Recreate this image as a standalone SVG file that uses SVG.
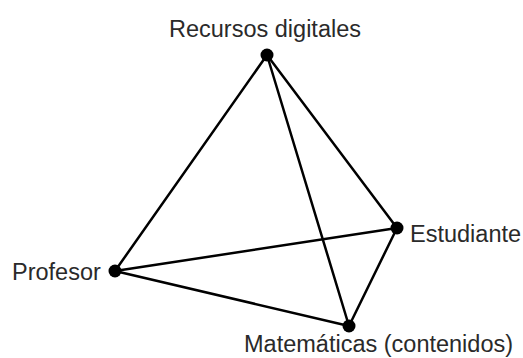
<svg xmlns="http://www.w3.org/2000/svg" width="523" height="358" viewBox="0 0 523 358">
<style>
.edge{stroke:#000;stroke-width:2.5;fill:none;stroke-linecap:round}
.dot{fill:#000}
.lbl{font-family:"Liberation Sans",Arial,sans-serif;font-size:23.5px;fill:#2a2a2a}
</style>
<rect width="523" height="358" fill="#fff"/>
<g id="connectors">
<line class="edge" x1="267" y1="55" x2="115" y2="271"/>
<line class="edge" x1="267" y1="55" x2="397" y2="228"/>
<line class="edge" x1="267" y1="55" x2="349" y2="326"/>
<line class="edge" x1="115" y1="271" x2="397" y2="228"/>
<line class="edge" x1="115" y1="271" x2="349" y2="326"/>
<line class="edge" x1="397" y1="228" x2="349" y2="326"/>
</g>
<g id="recursos">
<circle class="dot" cx="267" cy="55" r="6.5"/>
<text class="lbl" x="169" y="37">Recursos digitales</text>
</g>
<g id="estudiante">
<circle class="dot" cx="397" cy="228" r="6.5"/>
<text class="lbl" x="410" y="242">Estudiante</text>
</g>
<g id="profesor">
<circle class="dot" cx="115" cy="271" r="6.5"/>
<text class="lbl" x="12" y="280">Profesor</text>
</g>
<g id="matematicas">
<circle class="dot" cx="349" cy="326" r="6.5"/>
<text class="lbl" x="244" y="352">Matemáticas (contenidos)</text>
</g>
</svg>
